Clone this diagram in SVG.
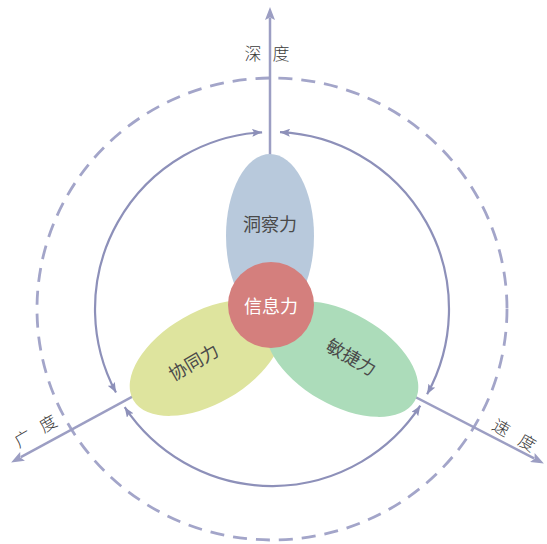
<svg xmlns="http://www.w3.org/2000/svg" width="547" height="544" viewBox="0 0 547 544">
  <style>
    .axis { stroke: #9c9ec3; stroke-width: 2.5; fill: none; }
    .cycle { stroke: #8d90b9; stroke-width: 2.2; fill: none; }
    .dash { stroke: #a3a5c9; stroke-width: 2.8; fill: none; stroke-dasharray: 14 9; }
    .lbl { font-family: "Noto Sans CJK SC", "Noto Sans", sans-serif; font-size: 18px; fill: #4a4a4a; text-anchor: middle; }
    .lblw { font-family: "Noto Sans CJK SC", "Noto Sans", sans-serif; font-size: 18px; fill: #ffffff; text-anchor: middle; }
    .ax { font-family: "Noto Sans CJK SC", "Noto Sans", sans-serif; font-size: 17px; fill: #3a3a3a; text-anchor: middle; font-weight: 300; }
  </style>
  <defs>
    <marker id="axhead" viewBox="0 0 14 10" refX="2" refY="5" markerWidth="14" markerHeight="10" markerUnits="userSpaceOnUse" orient="auto">
      <path d="M0,0 L13,5 L0,10 L2.5,5 z" fill="#9c9ec3"/>
    </marker>
    <marker id="cyhead" viewBox="0 0 10 8" refX="10" refY="4" markerWidth="10" markerHeight="8" markerUnits="userSpaceOnUse" orient="auto-start-reverse">
      <path d="M0,0 L10,4 L0,8 L2,4 z" fill="#8d90b9"/>
    </marker>
  </defs>
  <rect width="547" height="544" fill="#ffffff"/>

  <g id="connectors">
    <ellipse class="dash" cx="272" cy="309" rx="235" ry="231"/>
    <line class="axis" x1="270" y1="322" x2="270" y2="18" marker-end="url(#axhead)"/>
    <line class="axis" x1="270" y1="322" x2="20.8" y2="457.2" marker-end="url(#axhead)"/>
    <line class="axis" x1="270" y1="322" x2="534.1" y2="458.4" marker-end="url(#axhead)"/>
    <path class="cycle" d="M116,392.6 A177,177 0 0 1 262.1,132.3" marker-start="url(#cyhead)" marker-end="url(#cyhead)"/>
    <path class="cycle" d="M280,132.2 A177,177 0 0 1 427.1,394.3" marker-start="url(#cyhead)" marker-end="url(#cyhead)"/>
    <path class="cycle" d="M420.3,405.7 A177,177 0 0 1 124.7,407.2" marker-start="url(#cyhead)" marker-end="url(#cyhead)"/>
  </g>

  <g id="axis-labels">
    <text class="ax" x="253" y="60">深</text>
    <text class="ax" x="281" y="60">度</text>
    <text class="ax" transform="translate(26,444) rotate(-30)">广</text>
    <text class="ax" transform="translate(51,429) rotate(-30)">度</text>
    <text class="ax" transform="translate(498,433) rotate(30)">速</text>
    <text class="ax" transform="translate(524,448) rotate(30)">度</text>
  </g>

  <g id="node-insight">
    <ellipse cx="270" cy="236" rx="44" ry="82" fill="#b8c9dc"/>
    <text class="lbl" x="270" y="231">洞察力</text>
  </g>
  <g id="node-collab">
    <ellipse cx="0" cy="0" rx="84" ry="46" fill="#dee49e" transform="translate(206,358) rotate(-30)"/>
    <text class="lbl" transform="translate(197,368) rotate(-30)">协同力</text>
  </g>
  <g id="node-agility">
    <ellipse cx="0" cy="0" rx="84" ry="46" fill="#acdcba" transform="translate(342,359) rotate(30)"/>
    <text class="lbl" transform="translate(348,363) rotate(30)">敏捷力</text>
  </g>
  <g id="node-info">
    <circle cx="271" cy="305" r="43" fill="#d47f7d"/>
    <text class="lblw" x="271" y="313">信息力</text>
  </g>
</svg>
